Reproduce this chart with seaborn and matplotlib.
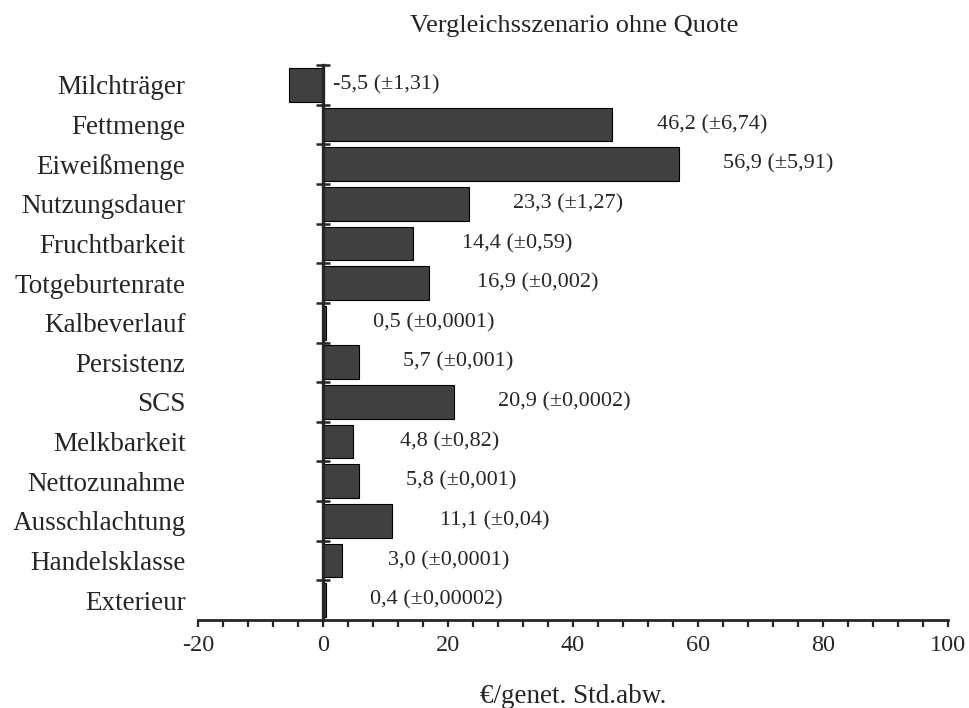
import matplotlib
matplotlib.use("Agg")
import matplotlib.pyplot as plt
import seaborn as sns
import numpy as np
from matplotlib.ticker import MultipleLocator

# Daten: Merkmale, Werte (€/genet. Std.abw.) und Standardabweichungen
merkmale = ["Milchträger", "Fettmenge", "Eiweißmenge", "Nutzungsdauer",
            "Fruchtbarkeit", "Totgeburtenrate", "Kalbeverlauf", "Persistenz",
            "SCS", "Melkbarkeit", "Nettozunahme", "Ausschlachtung",
            "Handelsklasse", "Exterieur"]
werte = [-5.5, 46.2, 56.9, 23.3, 14.4, 16.9, 0.5, 5.7, 20.9, 4.8, 5.8, 11.1, 3.0, 0.4]
std_abw = ["1,31", "6,74", "5,91", "1,27", "0,59", "0,002", "0,0001", "0,001",
           "0,0002", "0,82", "0,001", "0,04", "0,0001", "0,00002"]

# x-Position der Beschriftungen (wie im Original von Hand gesetzt)
label_x = [1.6, 53.4, 64.0, 30.4, 22.2, 24.6, 8.0, 12.8, 28.0, 12.4, 13.3, 18.7, 10.4, 7.5]

sns.set_style("white")
plt.rcParams['font.family'] = ['Liberation Serif', 'DejaVu Serif']
plt.rcParams['axes.unicode_minus'] = False

fig = plt.figure(figsize=(9.7, 7.08), dpi=100)
ax = fig.add_axes([198 / 970, 88 / 708, 750 / 970, 555 / 708])

sns.barplot(x=werte, y=merkmale, orient="h", color="#404040", saturation=1,
            edgecolor="black", linewidth=0.8, width=0.85, ax=ax)

for i, (v, sd) in enumerate(zip(werte, std_abw)):
    txt = f"{v:.1f}".replace(".", ",") + f" (±{sd})"
    ax.text(label_x[i], i, txt, fontsize=16, ha="left", va="center")

ax.set_xlim(-20, 100)
ax.set_ylim(len(merkmale) - 0.5, -0.5)

ax.set_xticks(np.arange(-20, 101, 20))
ax.xaxis.set_minor_locator(MultipleLocator(4))
ax.set_yticks(np.arange(-0.5, len(merkmale) - 0.5, 1), minor=True)

ax.set_axisbelow(False)
ax.spines['top'].set_visible(False)
ax.spines['right'].set_visible(False)
ax.spines['left'].set_position(('data', 0))
ax.spines['left'].set_linewidth(2.4)
ax.spines['left'].set_zorder(5)
ax.spines['bottom'].set_linewidth(2.0)
ax.spines['bottom'].set_zorder(5)

ax.tick_params(axis='x', which='both', direction='out', length=5, width=1.6,
               labelsize=17.5, pad=6, bottom=True)
ax.tick_params(axis='y', which='major', length=0, pad=99, labelsize=19.5, left=True)
ax.tick_params(axis='y', which='minor', direction='inout', length=10, width=1.8, left=True)

ax.set_xlabel("€/genet. Std.abw.", fontsize=19.5, labelpad=20)
ax.set_ylabel("")

fig.text(574 / 970, 1 - 32 / 708, "Vergleichsszenario ohne Quote",
         fontsize=19, ha="center", va="baseline")

fig.savefig("out.png", dpi=100)
